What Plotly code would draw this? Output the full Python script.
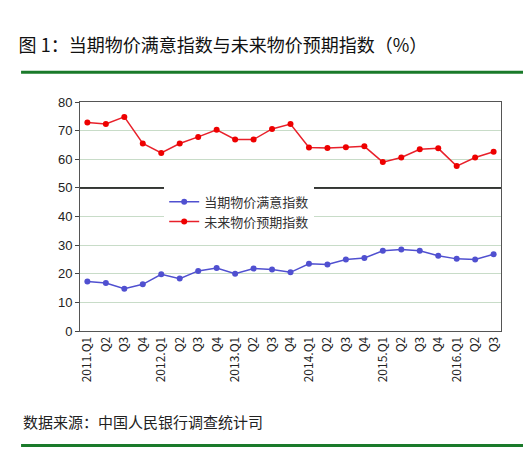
import plotly.graph_objects as go

quarters = ["2011.Q1", "Q2", "Q3", "Q4", "2012.Q1", "Q2", "Q3", "Q4",
            "2013.Q1", "Q2", "Q3", "Q4", "2014.Q1", "Q2", "Q3", "Q4",
            "2015.Q1", "Q2", "Q3", "Q4", "2016.Q1", "Q2", "Q3"]
current_idx = [17.3, 16.8, 14.8, 16.3, 19.8, 18.3, 21.0, 22.0, 20.0, 21.8, 21.5, 20.5,
               23.5, 23.2, 25.0, 25.5, 28.0, 28.5, 28.0, 26.3, 25.2, 25.0, 26.8]
future_idx = [72.8, 72.3, 74.8, 65.5, 62.2, 65.5, 67.8, 70.3, 66.9, 66.9, 70.6, 72.3,
              64.1, 63.9, 64.2, 64.5, 59.0, 60.6, 63.5, 63.8, 57.6, 60.6, 62.6]

xs = list(range(len(quarters)))
font = "Noto Sans CJK SC"
fig = go.Figure()
fig.add_trace(go.Scatter(x=xs, y=current_idx, name="当期物价满意指数", mode="lines+markers",
                         line=dict(color="#5050d0", width=1.5), marker=dict(size=6, color="#5050d0")))
fig.add_trace(go.Scatter(x=xs, y=future_idx, name="未来物价预期指数", mode="lines+markers",
                         line=dict(color="#e8202a", width=1.5), marker=dict(size=6, color="#ee0000")))

# divider line between the two panels
fig.add_shape(type="line", xref="x domain", yref="y", x0=0, x1=1, y0=50, y1=50,
              line=dict(color="black", width=1.5))

fig.update_layout(
    width=531, height=450, plot_bgcolor="white", paper_bgcolor="white",
    margin=dict(l=72, r=38, t=94, b=127),
    font=dict(family=font, size=13, color="#222"),
    showlegend=True,
    legend=dict(x=0.2, y=0.63, xanchor="left", yanchor="top", bgcolor="white",
                font=dict(size=13, color="#333"), tracegroupgap=0),
    title=dict(text="图 1：当期物价满意指数与未来物价预期指数（%）", x=0.02, xanchor="left",
               y=0.93, font=dict(size=18, color="#111", family=font)),
)
fig.update_xaxes(range=[-0.4, len(quarters) - 0.6], tickmode="array", tickvals=xs, ticktext=quarters,
                 tickangle=-90, showline=True, linecolor="#555", mirror=True,
                 showgrid=False, ticks="", zeroline=False, tickfont=dict(size=12, family=font))
fig.update_yaxes(range=[0, 80], dtick=10, showline=True, linecolor="#555", mirror=True,
                 gridcolor="#c8dcc8", ticks="outside", ticklen=4, tickfont=dict(size=13, family="Liberation Sans"),
                 zeroline=False)

fig.add_shape(type="line", xref="paper", yref="paper", x0=-0.14, x1=1.07, y0=1.13, y1=1.13,
              line=dict(color="#1a7a2a", width=3))
fig.add_shape(type="line", xref="paper", yref="paper", x0=-0.14, x1=1.07, y0=-0.5, y1=-0.5,
              line=dict(color="#1a7a2a", width=3))
fig.add_annotation(text="数据来源：中国人民银行调查统计司", xref="paper", yref="paper",
                   x=-0.14, y=-0.395, xanchor="left", yanchor="middle", showarrow=False,
                   font=dict(size=15, color="#222"))

fig.write_html("out.html")
